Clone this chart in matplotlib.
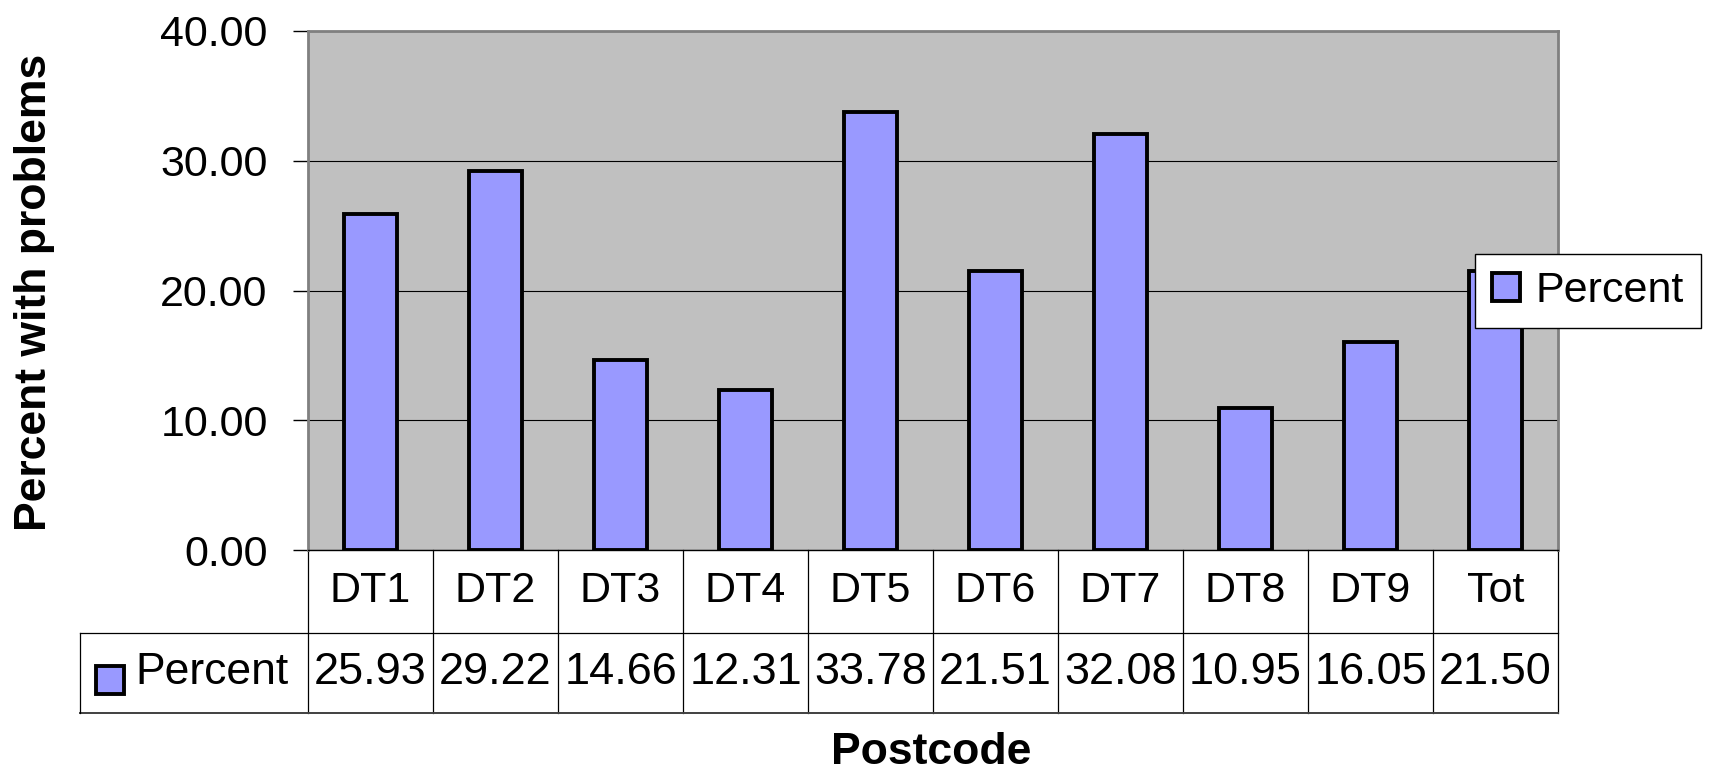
import matplotlib
matplotlib.use("Agg")
import matplotlib.pyplot as plt
import matplotlib.transforms as mtransforms
from matplotlib.patches import Rectangle

plt.rcParams['font.family'] = ['Liberation Sans', 'DejaVu Sans']

postcodes = ['DT1', 'DT2', 'DT3', 'DT4', 'DT5', 'DT6', 'DT7', 'DT8', 'DT9', 'Tot']
percent = [25.93, 29.22, 14.66, 12.31, 33.78, 21.51, 32.08, 10.95, 16.05, 21.50]
series_name = 'Percent'

W, H = 1712, 775
bar_color = '#9999FF'
fs = 31

fig = plt.figure(figsize=(W / 100, H / 100), dpi=100)
# plot area in pixel terms: x 308..1558, y 31..550
ax = fig.add_axes([308 / W, 1 - 550 / H, 1250 / W, 519 / H])
ax.set_facecolor('#C0C0C0')

x = list(range(len(postcodes)))
bars = ax.bar(x, percent, width=0.42, color=bar_color, edgecolor='black',
              linewidth=2.8, label=series_name, zorder=3)

ax.set_xlim(-0.5, len(postcodes) - 0.5)
ax.set_ylim(0, 40)
ax.set_yticks([0, 10, 20, 30, 40])
ax.set_yticklabels(['%.2f' % v for v in [0, 10, 20, 30, 40]], fontsize=fs)
ax.tick_params(axis='y', direction='out', length=11, width=1, pad=18)
ax.set_xticks([])
ax.yaxis.grid(True, color='black', linewidth=0.8)
ax.set_axisbelow(True)

for side in ['left', 'top', 'right']:
    ax.spines[side].set_color('#808080')
    ax.spines[side].set_linewidth(2)
ax.spines['bottom'].set_color('black')
ax.spines['bottom'].set_linewidth(1)

# data table under the plot: x in data coords, y in figure coords
trans = mtransforms.blended_transform_factory(ax.transData, fig.transFigure)
y_top = 1 - 550 / H
y_mid = 1 - 633 / H
y_bot = 1 - 713 / H
for i, (name, val) in enumerate(zip(postcodes, percent)):
    ax.text(i, (y_top + y_mid) / 2, name, transform=trans, ha='center',
            va='center', fontsize=fs, clip_on=False)
    ax.text(i, (y_mid + y_bot) / 2, '%.2f' % val, transform=trans, ha='center',
            va='center', fontsize=32.5, clip_on=False)

for b in [i - 0.5 for i in range(len(postcodes) + 1)]:
    ax.plot([b, b], [y_top, y_bot], transform=trans, color='black',
            linewidth=0.9, clip_on=False)

fig.add_artist(plt.Line2D([80 / W, 1558 / W], [y_mid, y_mid], color='black',
                          linewidth=0.9))
fig.add_artist(plt.Line2D([80 / W, 1558 / W], [y_bot, y_bot], color='#404040',
                          linewidth=1.4))
fig.add_artist(plt.Line2D([80 / W, 80 / W], [y_mid, y_bot], color='black',
                          linewidth=0.9))

# legend key in the table row label
fig.add_artist(Rectangle((96 / W, 1 - 694 / H), 28 / W, 28 / H,
                         facecolor=bar_color, edgecolor='black', linewidth=2.8,
                         transform=fig.transFigure))
fig.text(135 / W, (y_mid + y_bot) / 2, series_name, fontsize=32,
         ha='left', va='center')

leg = ax.legend(handles=[bars], loc='upper left',
                bbox_to_anchor=(1475 / W, 1 - 254 / H),
                bbox_transform=fig.transFigure, fontsize=fs, frameon=True,
                fancybox=False, shadow=False, handlelength=0.65,
                handleheight=0.65, handletextpad=0.35, borderpad=0.4,
                borderaxespad=0)
leg.get_frame().set_edgecolor('black')
leg.get_frame().set_linewidth(1)
leg.get_frame().set_alpha(1)

fig.text(35 / W, 1 - 292 / H, 'Percent with problems', rotation=90,
         fontsize=32, fontweight='bold', ha='center', va='center')
fig.text(931 / W, 1 - 753 / H, 'Postcode', fontsize=32, fontweight='bold',
         ha='center', va='center')

fig.savefig('out.png', dpi=100)
